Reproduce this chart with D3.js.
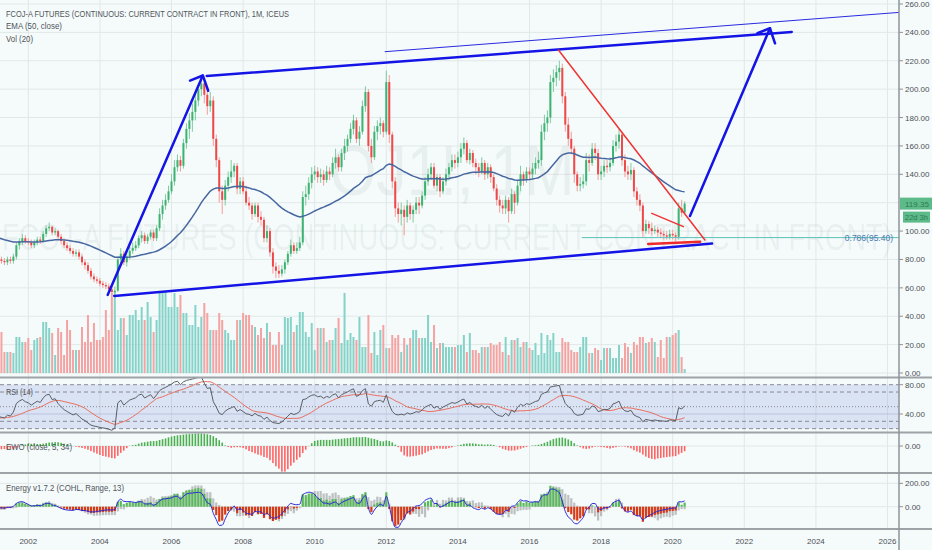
<!DOCTYPE html>
<html>
<head>
<meta charset="utf-8">
<script src="https://cdn.jsdelivr.net/npm/d3@7"></script>
<style>
  body { margin: 0; background: #f5fbfb; }
  svg { display: block; }
  text { font-family: "Liberation Sans", "DejaVu Sans", sans-serif; }
</style>
</head>
<body>
<svg id="chart" width="932" height="550"></svg>
<script>
// OJ1! monthly, Jan 1998 .. May 2020 (1998-2000 are off the left edge, only used to warm up the indicators)
const START_YEAR = 1998;
const FIRST_OPEN = 120;

const closes = [
  118,112,115,110,108,112,110,106,104,100,102,98,      // 1998
  95,92,90,88,92,95,90,88,92,90,88,85,                 // 1999
  90,88,86,85,84,82,86,88,85,80,78,80,                 // 2000
  84,82,80,79,78,80,79,82,90,93,95,93,                 // 2001
  92,90,92,94,93,98,102,103,99,100,96,93,              // 2002
  90,88,86,84,85,82,78,76,72,68,66,65,                 // 2003
  63,62,61,59,57,58,80,84,78,82,86,88,                 // 2004
  90,95,97,93,96,99,95,102,112,118,122,128,            // 2005
  135,145,150,146,162,172,178,184,192,200,204,196,     // 2006
  188,192,165,150,128,122,132,138,142,146,130,135,     // 2007
  128,120,118,112,118,110,108,95,100,85,75,72,         // 2008
  70,73,78,84,90,86,88,92,124,126,134,140,             // 2009
  142,138,140,136,142,140,148,152,145,155,160,165,     // 2010
  172,178,165,170,188,198,160,152,170,174,176,170,     // 2011
  205,168,135,116,112,115,110,118,112,115,120,118,     // 2012
  125,135,140,145,132,138,128,135,140,145,150,148,     // 2013
  152,158,162,150,155,148,145,142,148,140,145,138,     // 2014
  130,122,118,116,122,114,126,120,132,140,136,142,     // 2015
  140,144,148,150,170,176,180,205,208,212,215,195,     // 2016
  175,165,158,140,132,133,135,150,148,158,155,140,     // 2017
  142,146,145,148,160,163,168,150,142,140,143,128,     // 2018
  122,118,100,105,102,100,101,99,98,97,96,98,          // 2019
  97,96,116,113,119.35                                 // 2020
];

const highs = [
  124,120,118,116,112,115,114,111,108,106,105,103,
  100,97,95,92,94,98,97,92,94,94,92,90,
  92,92,90,88,88,86,88,91,90,87,82,83,
  86,86,84,82,81,82,82,84,92,95,98,97,
  95,94,94,96,96,100,104,106,104,102,101,98,
  95,92,90,88,87,87,84,80,78,74,70,68,
  67,65,64,63,61,61,82,88,86,85,89,92,
  93,97,100,99,98,101,101,104,116,122,126,132,
  140,150,154,153,165,176,183,190,197,204,208,206,
  200,198,195,168,152,132,136,142,150,148,148,138,
  138,132,124,120,120,120,114,110,104,102,88,78,
  76,76,80,86,94,92,92,96,128,132,138,145,
  146,145,144,143,146,145,152,158,154,158,165,168,
  176,182,180,174,192,202,200,165,174,178,180,178,
  213,210,170,138,120,120,118,122,120,118,124,124,
  128,138,144,148,148,140,140,138,144,148,154,154,
  156,162,166,164,158,157,151,148,152,150,148,147,
  140,133,125,122,125,124,130,128,136,146,142,145,
  145,148,152,156,175,182,185,210,214,217,220,218,
  198,180,170,160,142,138,140,155,154,162,162,158,
  146,150,150,152,164,168,172,170,154,146,148,145,
  131,126,120,108,107,106,104,103,102,100,100,101,
  101,99,120,122,121
];

const lows = [
  115,110,109,108,105,106,107,103,101,98,98,96,
  93,90,88,86,86,90,88,86,86,88,86,83,
  83,86,84,83,81,80,80,84,83,78,76,76,
  78,80,78,77,76,76,77,77,80,87,90,91,
  90,88,88,90,91,92,96,100,97,97,94,91,
  88,86,84,82,82,80,76,73,70,66,64,63,
  61,60,59,57,55,56,57,76,76,75,80,84,
  86,88,92,91,91,94,93,93,100,108,115,120,
  126,132,142,142,144,158,165,170,178,188,195,190,
  182,184,160,145,120,112,118,128,134,138,126,126,
  126,118,115,108,110,106,104,92,92,82,70,67,
  67,68,70,76,82,84,84,86,90,118,122,130,
  136,134,134,132,134,136,138,144,142,142,150,156,
  162,168,162,160,168,184,156,148,150,164,168,166,
  168,162,130,110,106,104,97,106,108,106,112,112,
  116,122,132,136,130,128,124,126,132,136,142,144,
  145,148,154,148,147,145,140,138,140,136,137,134,
  128,118,113,112,112,106,112,112,118,128,132,134,
  136,137,140,144,146,164,170,176,198,202,206,190,
  170,160,154,134,128,128,130,132,142,146,150,136,
  136,138,141,142,146,156,158,146,138,136,136,124,
  118,114,96,98,98,97,98,96,95,94,94,94,
  94,93,94,110,112
];

// volume, thousand contracts (approx.)
const volumes = [
  40,36,38,42,35,33,38,40,36,34,39,37,
  41,35,37,40,34,38,36,42,39,35,37,40,
  38,36,40,35,37,39,34,41,36,38,35,39,
  35,38,43,41,21,21,21,20,36,36,31,31,
  35,23,33,35,36,51,51,45,40,18,45,41,
  18,53,43,23,23,23,46,31,58,31,50,33,
  33,36,63,43,80,82,43,55,55,38,58,58,
  63,53,66,53,71,56,41,53,80,80,82,66,
  66,80,66,78,60,60,48,48,68,46,56,70,
  60,43,43,43,60,53,43,40,33,33,53,53,
  60,58,58,48,46,38,45,35,50,41,28,28,
  41,28,56,55,56,41,48,61,61,41,36,50,
  23,45,45,45,31,33,33,45,55,30,80,33,
  40,36,33,56,26,26,58,20,41,18,43,48,
  25,25,38,35,38,21,35,28,35,43,43,35,
  35,35,58,31,48,25,30,30,26,26,26,26,
  28,28,38,21,40,23,23,20,26,26,26,30,
  28,28,31,21,36,18,33,33,35,26,31,31,
  25,23,30,18,40,20,38,33,40,21,21,35,
  31,31,23,21,21,26,36,36,20,20,25,23,
  13,25,25,25,15,15,28,15,30,26,20,31,
  28,36,36,30,31,35,31,16,33,15,36,36,
  38,40,43,16,4
];

const yearTicks = [2002, 2004, 2006, 2008, 2010, 2012, 2014, 2016, 2018, 2020, 2022, 2024, 2026];
const priceTicks = [0, 20, 40, 60, 80, 100, 120, 140, 160, 180, 200, 220, 240, 260];
const rsiTicks = [80, 40];
const rsiDashed = [80, 70, 30, 20];
const ewoTicks = [0];
const energyTicks = [200, 0];

// hand-drawn objects: [monthIndex from Jan 1998, price]
const blueThick = [
  [[74.6, 55.0], [106.5, 209.6]],
  [[102.2, 206.0], [106.5, 209.6], [108.3, 198.9]],
  [[107.8, 209.3], [303.9, 240.3]],
  [[76.8, 54.3], [277.2, 91.2]],
  [[269.8, 110.6], [296.6, 242.9]],
  [[292.4, 239.4], [296.6, 242.9], [298.3, 232.3]]
];
const blueThin = [[[167.6, 226.4], [345, 254.9]]];
const redThin = [[[225.7, 227.6], [274.8, 93.7]], [[257.0, 112.5], [267.6, 103.1]]];
const redThick = [[[255.8, 90.9], [273.2, 92.5]]];
const fibStart = 233.5, fibLevel = 95.40, fibLabel = "0.786(95.40)";

const W = 932, AXIS_X = 899;
const MAIN = [0, 377], RSI = [378, 432], EWO = [433, 473], NRG = [474, 529];

const n = closes.length;
const idx = d3.range(n);
const opens = closes.map((c, i) => i === 0 ? FIRST_OPEN : closes[i - 1]);

// ---- indicators
const emaOf = (arr, len) => { const k = 2 / (len + 1); let e = arr[0]; return arr.map((v, i) => e = i ? e + (v - e) * k : v); };
const smaOf = (arr, len) => arr.map((v, i) => {
  if (i < len - 1) return null;
  const s = arr.slice(i - len + 1, i + 1);
  return s.some(x => x == null) ? null : d3.mean(s);
});
const ema50 = emaOf(closes, 50);

const rsi = new Array(n).fill(null);
let ag = 0, al = 0;
for (let i = 1; i < n; i++) {
  const ch = closes[i] - closes[i - 1], g = Math.max(ch, 0), l = Math.max(-ch, 0);
  if (i <= 14) { ag += g / 14; al += l / 14; if (i === 14) rsi[i] = 100 - 100 / (1 + ag / al); }
  else { ag = (ag * 13 + g) / 14; al = (al * 13 + l) / 14; rsi[i] = al === 0 ? 100 : 100 - 100 / (1 + ag / al); }
}
const rsiMA = smaOf(rsi, 14);

const sma5 = smaOf(closes, 5), sma34 = smaOf(closes, 34);
const ewo = idx.map(i => sma34[i] == null ? null : (sma5[i] - sma34[i]) / sma5[i] * 100);

const barPush = idx.map(i => (closes[i] - opens[i]) + (2 * closes[i] - highs[i] - lows[i]));
const energy = emaOf(barPush, 13).map(v => v * 12);
const signedRange = idx.map(i => (highs[i] - lows[i]) * Math.sign(closes[i] - opens[i] || 1));
const rangeSum = idx.map(i => i < 12 ? null : d3.sum(signedRange.slice(i - 12, i + 1)));
const energyFast = emaOf(emaOf(barPush, 5), 3).map(v => v * 8);

// ---- scales
const x = d3.scaleLinear().domain([48, 336]).range([28.3, 887.5]);
const yP = d3.scaleLinear().domain([0, 260]).range([373, 4]);
const yV = d3.scaleLinear().domain([0, 100]).range([373, 273]);
const yR = d3.scaleLinear().domain([40, 80]).range([414, 384.7]);
const yW = d3.scaleLinear().domain([-80, 40]).range([471, 433.5]);
const yE = d3.scaleLinear().domain([0, 200]).range([506.7, 483.3]);
const mIdx = yr => (yr - START_YEAR) * 12;

const svg = d3.select("#chart");
const defs = svg.append("defs");
[["cMain", MAIN], ["cRsi", RSI], ["cEwo", EWO], ["cNrg", NRG]].forEach(([id, r]) => {
  defs.append("clipPath").attr("id", id).append("rect")
    .attr("x", 0).attr("y", r[0]).attr("width", AXIS_X).attr("height", r[1] - r[0]);
});

svg.append("rect").attr("width", W).attr("height", 550).attr("fill", "#f5fbfb");

// grid
const grid = svg.append("g").attr("stroke", "#e1e8e8").attr("stroke-width", 1);
grid.selectAll(".vg").data(yearTicks).join("line")
  .attr("x1", d => x(mIdx(d))).attr("x2", d => x(mIdx(d))).attr("y1", 0).attr("y2", NRG[1]);
grid.selectAll(".hg").data(priceTicks).join("line")
  .attr("x1", 0).attr("x2", AXIS_X).attr("y1", d => yP(d)).attr("y2", d => yP(d));
grid.append("line").attr("x1", 0).attr("x2", AXIS_X).attr("y1", yW(0)).attr("y2", yW(0));
grid.selectAll(".eg").data(energyTicks).join("line")
  .attr("x1", 0).attr("x2", AXIS_X).attr("y1", d => yE(d)).attr("y2", d => yE(d));

// watermark
const wm = svg.append("g").attr("fill", "#7a8a8a").attr("fill-opacity", 0.1);
wm.append("text").attr("x", 452).attr("y", 195).attr("text-anchor", "middle")
  .attr("font-size", 70).attr("textLength", 245).attr("lengthAdjust", "spacingAndGlyphs").text("OJ1!, 1M");
wm.append("text").attr("x", 2).attr("y", 250)
  .attr("font-size", 36).attr("textLength", 890).attr("lengthAdjust", "spacingAndGlyphs")
  .text("FCOJ-A FUTURES (CONTINUOUS: CURRENT CONTRACT IN FRONT)");

// ---- main pane
const main = svg.append("g").attr("clip-path", "url(#cMain)");
const up = i => closes[i] >= opens[i];

main.append("g").selectAll("rect").data(idx).join("rect")
  .attr("x", i => x(i) - 1).attr("width", 2)
  .attr("y", i => yV(volumes[i])).attr("height", i => yV(0) - yV(volumes[i]))
  .attr("fill", i => up(i) ? "#85d3c8" : "#f4a3a2");

main.append("g").selectAll("line").data(idx).join("line")
  .attr("x1", i => x(i)).attr("x2", i => x(i))
  .attr("y1", i => yP(Math.max(highs[i], opens[i], closes[i])))
  .attr("y2", i => yP(Math.min(lows[i], opens[i], closes[i])))
  .attr("stroke", i => up(i) ? "#7fcaa0" : "#f59b9b").attr("stroke-width", 1);

main.append("g").selectAll("rect").data(idx).join("rect")
  .attr("x", i => x(i) - 1).attr("width", 2)
  .attr("y", i => yP(Math.max(opens[i], closes[i])))
  .attr("height", i => Math.max(1, Math.abs(yP(opens[i]) - yP(closes[i]))))
  .attr("fill", i => up(i) ? "#3cb371" : "#ef4848");

main.append("path").datum(idx.filter(i => i >= 36))
  .attr("fill", "none").attr("stroke", "#4767a0").attr("stroke-width", 1.5)
  .attr("d", d3.line().x(i => x(i)).y(i => yP(ema50[i])));

// fib level
main.append("line").attr("x1", x(fibStart)).attr("x2", AXIS_X)
  .attr("y1", yP(fibLevel)).attr("y2", yP(fibLevel)).attr("stroke", "#5cc2b8").attr("stroke-width", 1);
main.append("text").attr("x", 893).attr("y", yP(fibLevel) + 3).attr("text-anchor", "end")
  .attr("font-size", 8.5).attr("fill", "#4a7ab0").text(fibLabel);

const seg = d3.line().x(d => x(d[0])).y(d => yP(d[1]));
const drawSet = (set, color, w) => main.append("g").selectAll("path").data(set).join("path")
  .attr("d", seg).attr("fill", "none").attr("stroke", color).attr("stroke-width", w)
  .attr("stroke-linecap", "round").attr("stroke-linejoin", "round");
drawSet(blueThin, "#2a2ae0", 1);
drawSet(blueThick, "#1414e6", 2.5);
drawSet(redThin, "#f03434", 1.5);
drawSet(redThick, "#f02a2a", 2.5);

// ---- RSI pane
const rsiG = svg.append("g").attr("clip-path", "url(#cRsi)");
rsiG.append("rect").attr("x", 0).attr("width", AXIS_X)
  .attr("y", yR(80)).attr("height", yR(20) - yR(80)).attr("fill", "#7d8fd6").attr("fill-opacity", 0.22);
rsiG.append("line").attr("x1", 0).attr("x2", AXIS_X).attr("y1", yR(40)).attr("y2", yR(40))
  .attr("stroke", "#b9c3e0").attr("stroke-width", 1);
rsiG.selectAll(".dl").data(rsiDashed).join("line")
  .attr("x1", 0).attr("x2", AXIS_X).attr("y1", d => yR(d)).attr("y2", d => yR(d))
  .attr("stroke", "#8a8a95").attr("stroke-dasharray", "4,3");
rsiG.append("line").attr("x1", 0).attr("x2", AXIS_X).attr("y1", yR(50)).attr("y2", yR(50))
  .attr("stroke", "#8a8a95").attr("stroke-dasharray", "1,2");
rsiG.append("path").datum(idx.filter(i => rsiMA[i] != null))
  .attr("fill", "none").attr("stroke", "#e8705f").attr("stroke-width", 1)
  .attr("d", d3.line().x(i => x(i)).y(i => yR(rsiMA[i])));
rsiG.append("path").datum(idx.filter(i => rsi[i] != null))
  .attr("fill", "none").attr("stroke", "#5a5f66").attr("stroke-width", 1)
  .attr("d", d3.line().x(i => x(i)).y(i => yR(rsi[i])));

// ---- EWO pane
const ewoG = svg.append("g").attr("clip-path", "url(#cEwo)");
ewoG.selectAll("rect").data(idx.filter(i => ewo[i] != null)).join("rect")
  .attr("x", i => x(i) - 0.8).attr("width", 1.6)
  .attr("y", i => Math.min(yW(0), yW(ewo[i])))
  .attr("height", i => Math.abs(yW(ewo[i]) - yW(0)))
  .attr("fill", i => ewo[i] >= 0 ? "#4caf50" : "#ff6464");

// ---- Energy pane
const nrgG = svg.append("g").attr("clip-path", "url(#cNrg)");
nrgG.append("g").selectAll("rect").data(idx.filter(i => rangeSum[i] != null)).join("rect")
  .attr("x", i => x(i) - 1.1).attr("width", 2.2)
  .attr("y", i => Math.min(yE(0), yE(rangeSum[i])))
  .attr("height", i => Math.abs(yE(rangeSum[i]) - yE(0)))
  .attr("fill", "#a9abad").attr("fill-opacity", 0.75);
nrgG.append("g").selectAll("rect").data(idx).join("rect")
  .attr("x", i => x(i) - 1.1).attr("width", 2.2)
  .attr("y", i => Math.min(yE(0), yE(energy[i])))
  .attr("height", i => Math.abs(yE(energy[i]) - yE(0)))
  .attr("fill", i => energy[i] >= 0 ? "#5cb85c" : "#d63a16");
nrgG.append("path").datum(idx)
  .attr("fill", "none").attr("stroke", "#2a2ad8").attr("stroke-width", 1)
  .attr("d", d3.line().curve(d3.curveMonotoneX).x(i => x(i)).y(i => yE(energyFast[i])));

// ---- separators and right axis
const sep = svg.append("g").attr("stroke", "#9ea3a8").attr("stroke-width", 2);
[MAIN[1] + 0.5, RSI[1] + 0.5, EWO[1], NRG[1]].forEach(y =>
  sep.append("line").attr("x1", 0).attr("x2", W).attr("y1", y).attr("y2", y));
svg.append("line").attr("x1", AXIS_X).attr("x2", AXIS_X).attr("y1", 0).attr("y2", 550)
  .attr("stroke", "#8e9398").attr("stroke-width", 1.5);

// last price tags hide the axis labels they sit on
const lastY = yP(closes[n - 1]);
const axisLabels = [
  ...priceTicks.filter(v => Math.abs(yP(v) - lastY) > 9 && Math.abs(yP(v) - (lastY + 13.5)) > 9).map(v => [yP(v), v]),
  ...rsiTicks.map(v => [yR(v), v]),
  ...ewoTicks.map(v => [yW(v), v]),
  ...energyTicks.map(v => [yE(v), v])
];
const ax = svg.append("g");
ax.selectAll("line").data(axisLabels).join("line")
  .attr("x1", AXIS_X).attr("x2", AXIS_X + 4).attr("y1", d => d[0]).attr("y2", d => d[0])
  .attr("stroke", "#8e9398");
ax.selectAll("text").data(axisLabels).join("text")
  .attr("x", AXIS_X + 6).attr("y", d => d[0] + 3)
  .attr("font-size", 8).attr("fill", "#4c4f55").text(d => d3.format(".2f")(d[1]));

const tag = svg.append("g");
tag.append("rect").attr("x", AXIS_X + 1).attr("y", lastY - 6).attr("width", 32).attr("height", 12).attr("fill", "#5dbb8a");
tag.append("text").attr("x", AXIS_X + 6).attr("y", lastY + 3).attr("font-size", 8).attr("fill", "#2d7a52")
  .text(d3.format(".2f")(closes[n - 1]));
tag.append("rect").attr("x", AXIS_X + 4).attr("y", lastY + 8).attr("width", 27).attr("height", 11).attr("fill", "#5dbb8a");
tag.append("text").attr("x", AXIS_X + 6).attr("y", lastY + 16.5).attr("font-size", 7.5).attr("fill", "#2d7a52").text("22d 3h");

// x axis labels
svg.append("g").selectAll("text").data(yearTicks).join("text")
  .attr("x", d => x(mIdx(d))).attr("y", 544).attr("text-anchor", "middle")
  .attr("font-size", 8).attr("fill", "#4c4f55").text(d => d);

// legends
const legend = svg.append("g").attr("fill", "#50545a");
[["FCOJ-A FUTURES (CONTINUOUS: CURRENT CONTRACT IN FRONT), 1M, ICEUS", 6, 16.5, 283],
 ["EMA (50, close)", 6, 29, 56],
 ["Vol (20)", 6, 42, 27],
 ["RSI (14)", 6, 395, 27],
 ["EWO (close, 5, 34)", 6, 449.5, 66],
 ["Energy v1.7.2 (COHL, Range, 13)", 6, 490.5, 118]
].forEach(([t, lx, ly, w]) => legend.append("text").attr("x", lx).attr("y", ly)
  .attr("font-size", 9).attr("textLength", w).attr("lengthAdjust", "spacingAndGlyphs").text(t));
</script>
</body>
</html>
